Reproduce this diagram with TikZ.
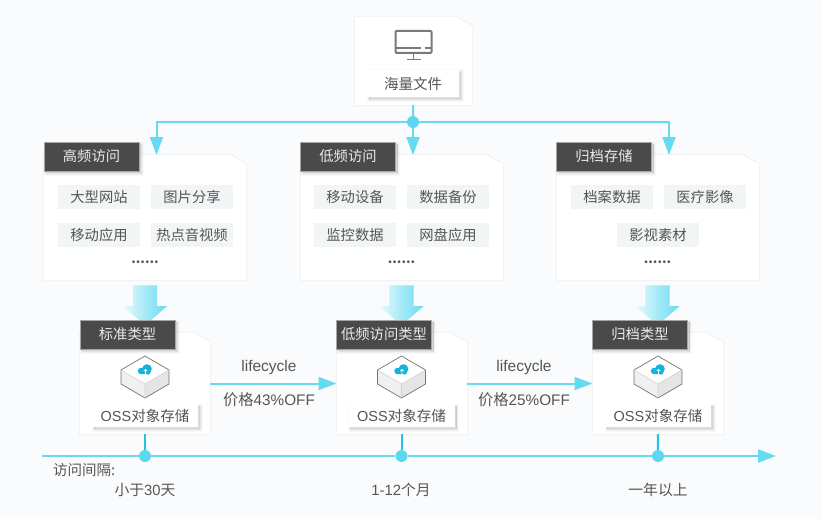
\documentclass[tikz,border=0pt]{standalone}
\usepackage{fontspec}
\setmainfont{Noto Sans CJK SC}
\newfontfamily\latinfont{Liberation Sans}
\usetikzlibrary{shapes.arrows,arrows.meta}
\definecolor{pagebg}{HTML}{FAFBFC}
\definecolor{inktext}{HTML}{555555}
\definecolor{headbg}{HTML}{4A4A4A}
\definecolor{tagbg}{HTML}{F1F5F6}
\definecolor{linecyan}{HTML}{66DAF0}
\definecolor{stemcyan}{HTML}{22C4E6}
\definecolor{cloudblue}{HTML}{12B4DE}
\tikzset{
  softlayer/.style n args={3}{preaction={draw=black, fill=black, draw opacity=#3, fill opacity=#3,
    line width=#2, transform canvas={xshift=#1, yshift=-#1}}},
  cardglow/.style={softlayer={0pt}{4pt}{.01}, softlayer={0pt}{2pt}{.014}},
  boxglow/.style={softlayer={2pt}{5pt}{.025}, softlayer={2pt}{3pt}{.035}, softlayer={2pt}{1pt}{.05}},
  card/.style={rectangle, fill=white, inner sep=0pt, outer sep=0pt, cardglow},
  headbox/.style={rectangle, fill=headbg, draw=gray!70, text=white!92!black, minimum width=95pt, minimum height=29pt,
    inner sep=0pt, font=\fontsize{14.3}{16}\selectfont, boxglow},
  labelbox/.style={rectangle, fill=white, text=inktext, inner sep=0pt, font=\fontsize{14.5}{16}\selectfont, boxglow},
  tagbox/.style={fill=tagbg, text=inktext, minimum width=82pt, minimum height=24pt,
    inner sep=0pt, font=\fontsize{14.3}{16}\selectfont},
  plain/.style={text=inktext, inner sep=0pt, font=\fontsize{14.8}{16}\selectfont},
  hub/.style={circle, fill=linecyan!85!stemcyan, minimum size=12pt, inner sep=0pt},
  feed/.style={draw=linecyan, line width=2pt, -{Triangle[length=18pt,width=13pt]}},
  cutcorner/.style={fill=pagebg},
  flowarrow/.style={single arrow, single arrow head extend=10pt, single arrow tip angle=98,
    single arrow head indent=0pt, minimum height=40pt, inner xsep=0pt, inner ysep=12pt,
    rotate=-90, left color=linecyan!15, right color=linecyan},
  screen/.pic={
    \draw[gray!95!black, line width=2pt, rounded corners=1pt] (-18,-14) rectangle (18,8);
    \draw[gray!95!black, line width=1.4pt] (-18,3) -- (7,3) (11,3) -- (18,3);
    \draw[gray!95!black, line width=1.6pt] (0,8) -- (0,14) (-7,14.5) -- (7,14.5);
  },
  ossbox/.pic={
    \fill[gray!12] (-24,0) -- (0,14) -- (0,28) -- (-24,14) -- cycle;
    \fill[gray!20] (24,0) -- (0,14) -- (0,28) -- (24,14) -- cycle;
    \fill[white] (0,-14) -- (24,0) -- (0,14) -- (-24,0) -- cycle;
    \draw[gray!90!black, line width=.7pt] (0,-14) -- (24,0) -- (24,14) -- (0,28) -- (-24,14) -- (-24,0) -- cycle;
    \draw[gray!35, line width=.6pt] (-24,0) -- (0,14) -- (24,0) (0,14) -- (0,28);
    \fill[cloudblue] (2,-1) circle (4.8) (-4,1) circle (3.2) (3,2) circle (2.5);
    \fill[cloudblue] (-5,4.2) -- (-2,-3) -- (4,0) -- (4,4.2) -- cycle;
    \draw[white, line width=.8pt] (0.5,5) -- (0.5,-.5) (-1.2,1) -- (0.5,-.5) (2.2,1) -- (0.5,-.5);
  }
}
\newcommand{\cutof}[1]{
  \fill[cutcorner] ([xshift=-15pt]#1.north east) -- ([yshift=-8pt]#1.north east)
    -- ([xshift=4pt,yshift=-8pt]#1.north east) -- ([xshift=4pt,yshift=4pt]#1.north east)
    -- ([xshift=-15pt,yshift=4pt]#1.north east) -- cycle;
  \draw[gray!12, line width=.8pt] ([xshift=-15pt]#1.north east) -- ([yshift=-8pt]#1.north east);
}
\begin{document}
\begin{tikzpicture}[x=1pt, y=-1pt]
\fill[pagebg] (0,0) rectangle (822,519);
\useasboundingbox (0,0) rectangle (822,519);

% top card
\node[card, minimum width=117pt, minimum height=88pt] (files) at (413.5,61) {};
\cutof{files}
\pic at (413.5,45) {screen};
\node[labelbox, minimum width=92pt, minimum height=27pt] (fileslabel) at (413,83.5) {海量文件};
\node[hub] (split) at (413,122) {};

% the three columns
\foreach \n/\cx/\sx/\ctitle/\ckind in {1/145/145/高频访问/标准类型, 2/401.5/401.5/低频访问/低频访问类型, 3/657.5/658/归档存储/归档类型} {
  \node[card, minimum width=202pt, minimum height=125pt] (use\n) at (\cx,217.5) {};
  \cutof{use\n}
  \node[headbox] (usehead\n) at (\cx-53.5,156.5) {\ctitle};
  \node[plain, font=\fontsize{13}{14}\selectfont\bfseries] (dots\n) at (\cx,262) {......};
  \node[flowarrow] (flow\n) at (\cx,300) {};
  \node[card, minimum width=130pt, minimum height=101pt] (store\n) at (\cx,383.5) {};
  \cutof{store\n}
  \node[headbox] (storehead\n) at (\cx-17.5,334.5) {\ckind};
  \pic at (\sx,370) {ossbox};
  \node[labelbox, minimum width=106pt, minimum height=23pt] (storelabel\n) at (\sx,415.5) {{\latinfont OSS}对象存储};
  \node[hub] (mark\n) at (\sx,456) {};
  \coordinate (in\n) at ([xshift=11.5pt]use\n.north);
  % stem down to the time axis
  \draw[stemcyan, line width=2pt] (store\n) -- (mark\n);
}

% tags
\foreach \tx/\ty/\ttext in {99/197/大型网站, 192/197/图片分享, 99/235/移动应用, 192/235/热点音视频,
  355/197/移动设备, 448/197/数据备份, 355/235/监控数据, 448/235/网盘应用,
  612/197/档案数据, 705/197/医疗影像, 658/235/影视素材}
\node[tagbox] (tag\tx-\ty) at (\tx,\ty) {\ttext};

% connectors
\draw[linecyan, line width=2pt] (files) -- (split);
\draw[feed] (split) -| (in1);
\draw[feed] (split) -- (in2);
\draw[feed] (split) -| (in3);
\foreach \a/\b/\cx/\price in {1/2/269/43\%OFF, 2/3/524/25\%OFF} {
  \draw[feed] (store\a) -- (store\b);
  \node[plain, font=\fontsize{15.5}{17}\selectfont\latinfont] (life\a) at (\cx,367) {lifecycle};
  \node[plain, font=\fontsize{15.3}{17}\selectfont] (price\a) at (\cx,400) {价格{\latinfont\price}};
}

% time axis
\coordinate (axisl) at (42,456);
\coordinate (axisr) at (776,456);
\draw[feed] (axisl) -- (mark1) -- (mark2) -- (mark3) -- (axisr);
\node[plain, anchor=west, font=\fontsize{14.5}{16}\selectfont] (gaplabel) at (53,470) {访问间隔:};
\node[plain] (gap1) at (145,490) {小于{\latinfont 30}天};
\node[plain] (gap2) at (401,490) {{\latinfont 1{-}12}个月};
\node[plain] (gap3) at (658,490) {一年以上};
\end{tikzpicture}
\end{document}
